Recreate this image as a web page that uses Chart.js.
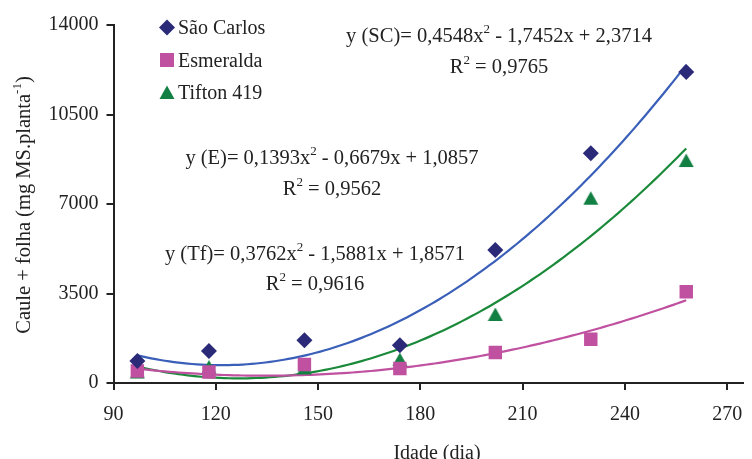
<!DOCTYPE html>
<html><head><meta charset="utf-8">
<script src="https://cdn.jsdelivr.net/npm/chart.js@4.4.1/dist/chart.umd.min.js"></script>
<style>html,body{margin:0;padding:0;background:#fff}#wrap{width:752px;height:459px}</style>
</head><body><div id="wrap"><canvas id="c" width="752" height="459"></canvas></div>
<script>
// ---- data ----
const days = [97, 118, 146, 174, 202, 230, 258];
const saoCarlos = [862, 1254, 1673, 1477, 5200, 8989, 12163];
const esmeralda = [470, 431, 721, 564, 1191, 1712, 3566];
const tifton = [430, 627, 588, 917, 2680, 7226, 8699];
// trendline coefficients as printed (x = sampling index 1..7, y in thousands)
const coefSC = [0.4548, -1.7452, 2.3714];
const coefE = [0.1393, -0.6679, 1.0857];
const coefTf = [0.3762, -1.5881, 1.8571];
const xTicks = [90, 120, 150, 180, 210, 240, 270];
const yTicks = [0, 3500, 7000, 10500, 14000];
const seriesNames = ['São Carlos', 'Esmeralda', 'Tifton 419'];

function trend(coef) {
  const pts = [];
  const first = days[0], last = days[days.length - 1], n = days.length;
  for (let t = 1; t <= n + 1e-9; t += 0.05) {
    const x = first + (t - 1) * (last - first) / (n - 1);
    const y = (coef[0] * t * t + coef[1] * t + coef[2]) * 1000;
    pts.push({x, y});
  }
  return pts;
}
const toPts = arr => arr.map((v, i) => ({x: days[i], y: v}));

const FONT = "'Liberation Serif', 'Times New Roman', serif";
const cSC = '#2a2a78', cSCline = '#3a5fb8';
const cE = '#c050a0';
const cTf = '#128043', cTfline = '#1a8a3a';

function triangle() {
  const c = document.createElement('canvas'); c.width = 16; c.height = 15;
  const g = c.getContext('2d'); g.fillStyle = cTf;
  g.beginPath(); g.moveTo(8, 0.5); g.lineTo(15.5, 14); g.lineTo(0.5, 14); g.closePath(); g.fill();
  return c;
}
const triImg = triangle();

const overlay = {
  id: 'overlay',
  afterDraw(chart) {
    const ctx = chart.ctx;
    ctx.save();
    ctx.fillStyle = '#222';
    ctx.textBaseline = 'alphabetic';
    // legend
    ctx.font = '20px ' + FONT;
    const lx = 167, tx = 178;
    const rows = [34, 67, 99];
    ctx.fillStyle = cSC;
    ctx.beginPath(); ctx.moveTo(lx, 19.5); ctx.lineTo(lx + 8, 27.5); ctx.lineTo(lx, 35.5); ctx.lineTo(lx - 8, 27.5); ctx.closePath(); ctx.fill();
    ctx.fillStyle = cE; ctx.fillRect(lx - 7, 53, 14, 14);
    ctx.drawImage(triImg, lx - 8, 85);
    ctx.fillStyle = '#222';
    seriesNames.forEach((s, i) => ctx.fillText(s, tx, rows[i]));

    // equations
    const big = '20.5px ', small = '13px ';
    function rich(parts, cx, y) {
      let w = 0;
      parts.forEach(p => { ctx.font = (p.sup ? small : big) + FONT; w += ctx.measureText(p.t).width; });
      let x = cx - w / 2;
      parts.forEach(p => {
        ctx.font = (p.sup ? small : big) + FONT;
        ctx.fillText(p.t, x, p.sup ? y - 9 : y);
        x += ctx.measureText(p.t).width;
      });
    }
    function eq(label, c, r2, cx, y1, y2) {
      const f = v => v.toFixed(4).replace('.', ',');
      rich([{t: 'y (' + label + ')= ' + f(c[0]) + 'x'}, {t: '2', sup: true},
            {t: ' - ' + f(-c[1]) + 'x + ' + f(c[2])}], cx, y1);
      rich([{t: 'R'}, {t: '2', sup: true}, {t: ' = ' + r2}], cx, y2);
    }
    eq('SC', coefSC, '0,9765', 499, 42, 73);
    eq('E', coefE, '0,9562', 332, 164, 195);
    eq('Tf', coefTf, '0,9616', 315, 260, 290);

    // axis titles
    ctx.font = '20px ' + FONT;
    ctx.textAlign = 'center';
    ctx.fillText('Idade (dia)', 437, 459);
    ctx.save();
    ctx.translate(30, 205);
    ctx.rotate(-Math.PI / 2);
    const main = 'Caule + folha (mg MS.planta', sup = '-1', end = ')';
    ctx.font = '20.5px ' + FONT; const w1 = ctx.measureText(main).width, w3 = ctx.measureText(end).width;
    ctx.font = '13px ' + FONT; const w2 = ctx.measureText(sup).width;
    let x0 = -(w1 + w2 + w3) / 2;
    ctx.textAlign = 'left';
    ctx.font = '20.5px ' + FONT; ctx.fillText(main, x0, 0);
    ctx.font = '13px ' + FONT; ctx.fillText(sup, x0 + w1, -9);
    ctx.font = '20.5px ' + FONT; ctx.fillText(end, x0 + w1 + w2, 0);
    ctx.restore();
    ctx.restore();
  }
};

new Chart(document.getElementById('c'), {
  type: 'scatter',
  data: {
    datasets: [
      {label: seriesNames[0], data: toPts(saoCarlos), pointStyle: 'rectRot', radius: 8, backgroundColor: cSC, borderWidth: 0, order: 1},
      {label: seriesNames[1], data: toPts(esmeralda), pointStyle: 'rect', radius: 9.5, backgroundColor: cE, borderWidth: 0, order: 1},
      {label: seriesNames[2], data: toPts(tifton), pointStyle: triImg, backgroundColor: cTf, borderWidth: 0, order: 1},
      {label: 'trend SC', data: trend(coefSC), showLine: true, pointRadius: 0, borderColor: cSCline, borderWidth: 2.2, order: 2},
      {label: 'trend E', data: trend(coefE), showLine: true, pointRadius: 0, borderColor: cE, borderWidth: 2.2, order: 2},
      {label: 'trend Tf', data: trend(coefTf), showLine: true, pointRadius: 0, borderColor: cTfline, borderWidth: 2.2, order: 2}
    ]
  },
  options: {
    responsive: false, animation: false,
    layout: {padding: {left: 0, right: 0, top: 25, bottom: 0}},
    plugins: {legend: {display: false}, tooltip: {enabled: false}},
    scales: {
      x: {
        type: 'linear', min: 90, max: 274.5,
        afterBuildTicks: s => { s.ticks = xTicks.map(v => ({value: v})); },
        afterFit: s => { s.height = 76; s.paddingLeft = 0; s.paddingRight = 0; },
        grid: {display: true, drawOnChartArea: false, drawTicks: true, tickLength: 7, color: '#222', lineWidth: 2},
        border: {display: true, color: '#222', width: 2},
        ticks: {color: '#222', font: {family: FONT, size: 20}, padding: 13, maxRotation: 0, callback: v => String(v)}
      },
      y: {
        type: 'linear', min: 0, max: 14000,
        afterBuildTicks: s => { s.ticks = yTicks.map(v => ({value: v})); },
        afterFit: s => { s.width = 113.5; },
        grid: {display: true, drawOnChartArea: false, drawTicks: true, tickLength: 7, color: '#222', lineWidth: 2},
        border: {display: true, color: '#222', width: 2},
        ticks: {color: '#222', font: {family: FONT, size: 20}, padding: 8, callback: v => String(v)}
      }
    }
  },
  plugins: [overlay]
});
</script></body></html>
